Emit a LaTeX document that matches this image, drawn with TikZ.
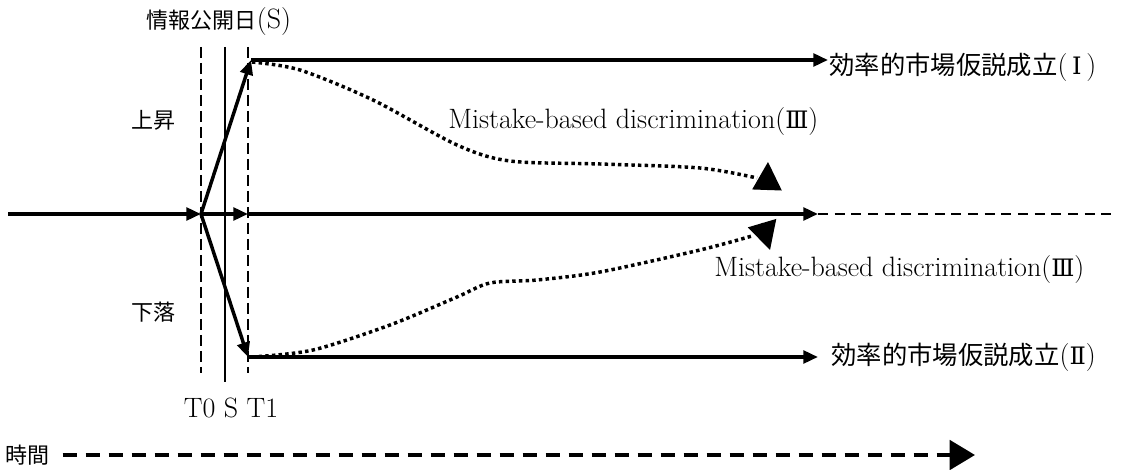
\documentclass[tikz,border=0pt]{standalone}
\usepackage{fontspec}
\newfontfamily\cjk{Noto Sans CJK JP}
\newfontfamily\romnum{DejaVu Serif}
\newcommand{\jp}[1]{{\cjk\fontsize{16.5}{20}\selectfont #1}}
\newcommand{\jpl}[1]{{\cjk\fontsize{19}{22}\selectfont #1}}
\newcommand{\rn}[1]{{\romnum\fontsize{18}{20}\selectfont #1}}
\usetikzlibrary{arrows.meta}

\begin{document}
\begin{tikzpicture}[x=0.75pt,y=-0.75pt,font=\fontsize{21}{24}\selectfont,
    flow/.style={line width=2.6pt,-{Triangle[length=11pt,width=9.5pt]}},
    tline/.style={line width=1.6pt,dash pattern=on 8pt off 4pt},
    tail/.style={line width=1.8pt,dash pattern=on 7.5pt off 5pt},
    drift/.style={line width=2.6pt,dash pattern=on 2.6pt off 2.4pt},
    bighead/.style={line width=1pt,-{Triangle[length=21pt,width=22pt]}}]
    \useasboundingbox (0,0) rectangle (1132,470);
    % event window T0, S, T1
    \foreach \x in {201,248}
      \draw[tline] (\x,47) -- (\x,373);
    \draw[line width=1.5pt] (225,47) -- (225,382);
    \coordinate (in) at (8,214);
    \coordinate (o) at (201,214);
    \coordinate (t1) at (248,214);
    \coordinate (hi) at (251,60);
    \coordinate (lo) at (248,357);
    \coordinate (mid) at (818,214);
    \coordinate (far) at (1115,214);
    % labels
    \node (disc) at (219,22) {\jp{情報公開日}(S)};
    \node (rise) at (153,120) {\jp{上昇}};
    \node (fall) at (153,312) {\jp{下落}};
    \node[anchor=base] (marks) at (231,417) {T0 S T1};
    \node[anchor=west,inner xsep=1pt] (emhI) at (828,67)
      {\jpl{効率的市場仮説成立}(\,\rn{Ⅰ}\,)};
    \node[anchor=west,inner xsep=10pt] (emhII) at (818,357)
      {\jpl{効率的市場仮説成立}(\rn{Ⅱ})};
    \node[anchor=base west,inner sep=0pt] (mbdU) at (448,129)
      {Mistake-based discrimination(\rn{Ⅲ})};
    \node[anchor=base west,inner sep=0pt] (mbdL) at (714,277)
      {Mistake-based discrimination(\rn{Ⅲ})};
    \node (time) at (28,455) {\jp{時間}};
    % price paths
    \draw[flow] (in) -- (o);
    \draw[flow] (o) -- (t1);
    \draw[flow] (t1) -- (mid);
    \draw[tail] (mid) -- (far);
    \draw[flow] (o) -- (hi);
    \draw[flow] (o) -- (lo);
    \draw[flow] (hi) -- (hi -| emhI.west);
    \draw[flow] (lo) -- (lo -| emhII.west);
    % drift after the announcement
    \draw[drift] plot[smooth] coordinates
      {(252,62)(300,70)(373,100)(457,145)(510,161)(600,164)(700,168)(757,178)};
    \draw[drift] plot[smooth] coordinates
      {(252,357)(313,350)(390,325)(457,297)(490,283)(537,280)(600,272)(700,250)(752,236)};
    \coordinate (upbase) at (767,190);
    \coordinate (uptip) at (768,162);
    \coordinate (dnbase) at (762,223);
    \coordinate (dntip) at (770,250);
    \draw[bighead] (upbase) -- (uptip);
    \draw[bighead] (dnbase) -- (dntip);
    % time axis
    \coordinate (tend) at (975,455);
    \draw[line width=3pt,dash pattern=on 10.5pt off 6.75pt,
      -{Triangle[length=19pt,width=22pt]},shorten <=6pt] (time.east) -- (tend);
  \end{tikzpicture}
\end{document}
